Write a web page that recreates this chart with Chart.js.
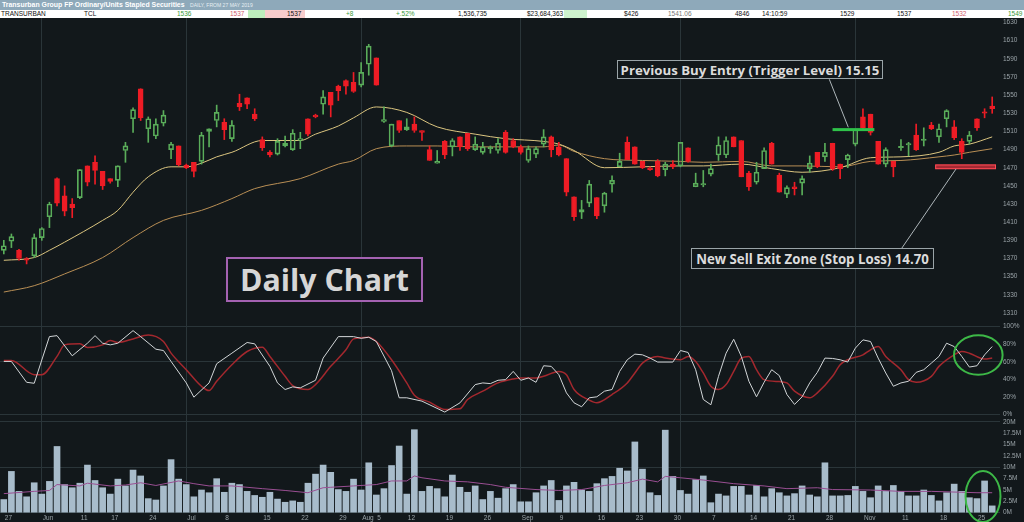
<!DOCTYPE html>
<html><head><meta charset="utf-8">
<script src="https://cdn.jsdelivr.net/npm/chart.js@4.4.1/dist/chart.umd.min.js"></script>
<style>
html,body{margin:0;padding:0;background:#12181b;width:1024px;height:522px;overflow:hidden;font-family:"Liberation Sans",Arial,sans-serif;}
#title{position:absolute;left:0;top:0;width:1024px;height:10px;background:#8ea9ba;}
#title .t{position:absolute;left:2px;top:0;font-weight:bold;font-size:6.5px;line-height:10px;color:#fff;white-space:nowrap;}
#title .s{position:absolute;left:190px;top:0;font-size:4.5px;line-height:10px;color:#e6eef3;white-space:nowrap;}
#row{position:absolute;left:0;top:10px;width:1024px;height:8px;background:#fff;}
#row span{position:absolute;top:0;font-size:6.5px;line-height:8px;color:#111;white-space:nowrap;}
#row .cell{position:absolute;top:0;height:8px;}
.g{color:#3a9a3a !important}.p{color:#d0606e !important}
.cv{position:absolute;left:0;width:1024px;}
.box{position:absolute;box-sizing:border-box;display:flex;align-items:center;justify-content:center;background:#12181b;color:#dcdcdc;font-family:"Open Sans";font-weight:bold;white-space:nowrap;}
#ov{position:absolute;left:0;top:0;pointer-events:none;}
</style></head>
<body>
<div id="title"><span class="t fit" data-w="183">Transurban Group FP Ordinary/Units Stapled Securities</span><span class="s fit" data-w="63">DAILY, FROM 27 MAY 2019</span></div>
<div id="row">
 <div class="cell" style="left:248px;width:17px;background:#bdeebd"></div>
 <div class="cell" style="left:265px;width:40px;background:#f7cccc"></div>
 <div class="cell" style="left:564px;width:23px;background:#cdf2cd"></div>
 <span style="left:1px">TRANSURBAN</span>
 <span style="left:84px">TCL</span>
 <span class="g" style="left:177px">1536</span>
 <span class="p" style="left:230px">1537</span>
 <span style="left:287px">1537</span>
 <span class="g" style="left:346px">+8</span>
 <span class="g" style="left:396px">+.52%</span>
 <span style="left:458px">1,536,735</span>
 <span style="left:527px">$23,684,363</span>
 <span style="left:624px">$426</span>
 <span style="left:668px;color:#777">1541.06</span>
 <span style="left:735px">4846</span>
 <span style="left:762px">14:10:59</span>
 <span style="left:840px">1529</span>
 <span style="left:897px">1537</span>
 <span class="p" style="left:952px">1532</span>
 <span class="g" style="left:1008px">1549</span>
</div>
<div class="cv" style="top:18px;height:304px"><canvas id="price"></canvas></div>
<div class="cv" style="top:322px;height:96px"><canvas id="osc"></canvas></div>
<div class="cv" style="top:418px;height:104px"><canvas id="vol"></canvas></div>
<svg id="ov" width="1024" height="522">
 <line x1="829.3" y1="79.3" x2="848.3" y2="127.3" stroke="#aeb6ba" stroke-width="1"/>
 <line x1="901.7" y1="248.3" x2="956" y2="169" stroke="#aeb6ba" stroke-width="1"/>
 <ellipse cx="978.3" cy="355" rx="24.3" ry="19.7" fill="none" stroke="#3db847" stroke-width="2"/>
 <ellipse cx="983" cy="496.5" rx="17.5" ry="25.5" fill="none" stroke="#3db847" stroke-width="2"/>
</svg>
<div class="box" style="left:617px;top:60px;width:266px;height:19px;border:1px solid #9aa4a8"><span class="fit" data-w="259" style="font-size:13px">Previous Buy Entry (Trigger Level) 15.15</span></div>
<div class="box" style="left:691px;top:248px;width:243px;height:21px;border:1px solid #9aa4a8"><span class="fit" data-w="233" style="font-size:13px">New Sell Exit Zone (Stop Loss) 14.70</span></div>
<div class="box" style="left:226px;top:257px;width:197px;height:45px;border:2px solid #a462b2"><span class="fit" data-w="169" style="font-size:30px;color:#d6d6d6">Daily Chart</span></div>
<script>
// ---------- DATA ----------
const opens = [1379,1389,1379,1370,1373,1393,1416,1458,1439,1430,
1437,1472,1476,1466,1458,1456,1489,1524,1557,1513,
1505,1519,1490,1494,1473,1476,1477,1510,1522,1520,
1502,1541,1547,1529,1501,1487,1485,1494,1490,1500,
1524,1528,1540,1553,1560,1566,1564,1561,1584,1591,
1521,1494,1522,1512,1518,1511,1490,1475,1499,1493,
1504,1508,1490,1487,1491,1489,1509,1500,1493,1478,
1485,1496,1504,1493,1480,1438,1421,1431,1437,1428,
1452,1471,1498,1493,1477,1470,1477,1468,1474,1472,
1492,1449,1451,1463,1484,1484,1504,1500,1464,1454,
1469,1497,1462,1441,1449,1453,1469,1487,1482,1497,
1474,1479,1496,1526,1529,1499,1474,1477,1492,1495,
1506,1500,1517,1504,1524,1515,1499,1499,1524,1531,1538];
const highs = [1390,1397,1380,1371,1397,1404,1432,1459,1450,1436,
1468,1472,1483,1466,1458,1472,1498,1536,1557,1526,
1524,1533,1498,1494,1474,1476,1509,1513,1539,1524,
1522,1551,1547,1535,1504,1489,1502,1505,1512,1509,
1524,1529,1555,1553,1561,1567,1575,1586,1606,1591,
1537,1518,1522,1524,1526,1511,1494,1489,1500,1502,
1504,1508,1504,1498,1494,1502,1511,1502,1495,1494,
1493,1512,1505,1498,1480,1438,1434,1456,1437,1443,
1461,1486,1504,1493,1477,1471,1479,1476,1478,1498,
1492,1464,1467,1474,1504,1504,1504,1500,1466,1476,
1492,1498,1464,1450,1454,1461,1483,1487,1497,1497,
1474,1485,1512,1535,1529,1499,1492,1477,1501,1498,
1518,1514,1520,1518,1534,1522,1502,1510,1524,1535,1548];
const lows = [1375,1382,1368,1364,1371,1390,1404,1428,1417,1415,
1436,1450,1452,1446,1453,1449,1476,1509,1522,1498,
1502,1516,1480,1472,1469,1460,1474,1493,1515,1501,
1499,1533,1535,1522,1489,1482,1484,1493,1489,1491,
1505,1525,1529,1526,1544,1551,1553,1559,1572,1561,
1520,1493,1509,1511,1509,1500,1478,1475,1480,1483,
1489,1489,1489,1485,1486,1486,1486,1492,1485,1476,
1481,1493,1482,1483,1439,1412,1414,1427,1414,1421,
1443,1471,1479,1474,1469,1467,1460,1461,1469,1471,
1476,1449,1449,1461,1478,1481,1493,1460,1445,1452,
1469,1474,1443,1437,1440,1440,1465,1470,1477,1467,
1458,1470,1494,1513,1506,1474,1471,1460,1489,1483,
1489,1494,1512,1498,1515,1501,1480,1496,1511,1525,1530];
const closes = [1384,1394,1370,1368,1393,1403,1430,1431,1422,1426,
1468,1454,1467,1450,1455,1472,1494,1534,1525,1524,
1518,1528,1496,1473,1470,1466,1506,1513,1531,1512,
1517,1537,1540,1524,1492,1484,1499,1497,1508,1502,
1507,1526,1548,1539,1555,1560,1554,1575,1604,1561,
1523,1518,1511,1515,1511,1509,1478,1477,1484,1500,
1493,1491,1496,1493,1492,1497,1487,1493,1487,1491,
1491,1504,1490,1484,1443,1416,1424,1452,1417,1442,
1456,1477,1479,1474,1470,1468,1461,1474,1471,1498,
1477,1453,1452,1469,1495,1500,1493,1460,1449,1465,
1489,1474,1443,1448,1447,1458,1475,1471,1487,1469,
1469,1484,1512,1514,1509,1474,1490,1471,1493,1496,
1490,1501,1513,1513,1533,1503,1487,1506,1514,1530,1535];
// volume in millions
const volumes = [2.9,9.1,4.7,3.5,6.6,4.1,6.9,14.6,6.2,5.5,
6.5,10.5,7.1,5.5,4.1,7.4,5.9,9.4,8.1,3.1,
2.8,5.9,11.7,7.4,6.2,3.5,5.0,4.4,7.5,4.5,
6.5,6.2,4.7,3.8,3.4,4.5,3.0,2.3,2.6,2.3,
6.5,8.5,10.5,8.9,5.1,4.7,7.4,5.0,11.0,3.9,
5.3,10.4,14.7,4.1,18.3,4.7,5.8,5.3,3.5,8.3,
5.6,4.5,5.9,2.9,4.7,3.2,5.3,6.2,2.4,2.4,
4.4,5.9,7.1,2.7,5.9,6.7,5.0,4.7,6.4,7.5,
8.0,9.8,9.2,15.6,9.6,4.4,3.8,18.2,8.0,4.9,
4.1,7.3,8.1,2.2,4.1,3.7,5.8,5.8,3.9,6.0,
3.5,5.3,4.4,3.7,4.2,5.9,3.9,3.5,11.0,3.7,
3.7,3.8,5.8,4.7,3.3,5.9,4.7,6.0,4.7,3.7,
3.7,5.0,3.8,2.6,4.4,6.3,4.7,3.3,3.1,7.0,1.5];
// moving averages: [bar index, value]
const maShort = [[0,1368],[4,1371],[6,1379],[8,1388],[13,1412],[15,1423],[17,1443],[19,1460],[22,1471],[24,1471],[26,1475],[28,1482],[30,1487],[34,1500],[39,1500],[41,1507],[44,1516],[46,1525],[49,1537],[53,1531],[57,1515],[62,1507],[66,1502],[71,1499],[73,1496],[75,1489],[79,1470],[84,1471],[89,1472],[92,1472],[97,1474],[101,1469],[105,1465],[110,1470],[114,1481],[118,1482],[123,1487],[125,1494],[127,1496],[130,1504]];
const maLong = [[0,1333],[4,1340],[8,1353],[13,1371],[17,1393],[21,1412],[26,1423],[30,1436],[33,1447],[39,1458],[44,1474],[46,1478],[49,1491],[53,1494],[57,1494],[62,1493],[66,1493],[71,1493],[73,1495],[75,1488],[79,1480],[84,1478],[89,1477],[92,1476],[97,1477],[101,1472],[105,1472],[110,1471],[114,1477],[118,1478],[123,1482],[125,1484],[127,1487],[130,1491]];
const stochK = [[0,60.5],[1,60.5],[3,36.8],[4,35.7],[6,88.7],[7,89.8],[9,66.9],[11,81.2],[12,89.8],[13,81.2],[14,79.3],[15,81.2],[17,95.5],[18,88.7],[20,74.4],[21,72.9],[22,60.5],[24,36.1],[25,19.9],[27,36.1],[28,57.9],[30,69.9],[32,82],[33,80.5],[35,54.9],[36,36.1],[37,28.6],[38,31.6],[39,30.5],[41,39.1],[42,64.3],[44,88.7],[46,88.7],[47,86.8],[48,88],[49,83.1],[51,50],[52,19.2],[53,19.2],[55,15.4],[58,3],[60,13.5],[62,34.2],[63,36.1],[64,35.3],[65,39.1],[66,39.8],[67,49.2],[68,39.1],[69,41.7],[70,36.8],[71,55.6],[72,54.9],[73,45.5],[74,24.8],[75,13.5],[76,9],[77,19.2],[78,20.3],[79,26.7],[80,28.6],[81,49.2],[82,62.4],[83,68.8],[84,68],[85,64.3],[86,59.8],[88,59.8],[89,72.9],[90,70.7],[91,51.1],[92,17.3],[93,11.3],[94,43.6],[95,69.9],[96,85.7],[97,66.2],[98,38],[99,20.3],[100,36.8],[101,51.1],[102,44.4],[103,22.9],[104,11.7],[105,20.3],[106,36.1],[107,48.1],[108,64.3],[109,63.9],[110,62.4],[111,59.8],[112,75.6],[113,85],[114,83.1],[115,64.3],[116,47.4],[117,32.3],[118,36.1],[119,38],[120,48.1],[121,51.1],[122,58.6],[123,66.2],[124,81.2],[125,77.4],[126,66.2],[127,54.1],[128,55.6],[129,68],[130,77.4]];
const stochD = [[0,61.7],[1,61.7],[4,45.5],[5,45.5],[7,66.2],[8,79.3],[10,80.5],[11,76.3],[13,79.3],[14,84.2],[15,82],[17,86.1],[19,90.6],[21,83.1],[22,69.9],[24,51.1],[26,32.3],[27,27.4],[28,38],[30,56.8],[32,71.8],[34,76.7],[35,66.2],[37,43.6],[38,33.1],[40,28.6],[41,34.2],[43,54.9],[45,73.7],[46,86.1],[48,88],[49,83.1],[51,62.4],[53,36.1],[54,22.2],[56,14.3],[58,6],[60,6.8],[61,17.3],[63,26.7],[65,36.1],[67,40.6],[68,41.7],[70,41.7],[71,43.6],[73,49.2],[74,45.5],[75,28.6],[77,16.5],[78,13.5],[80,22.9],[82,36.1],[83,47.4],[84,58.6],[86,66.2],[87,64.3],[89,62.4],[90,66.2],[91,60.5],[92,47.4],[93,32.3],[94,28.6],[95,34.2],[96,49.2],[97,64.3],[98,66.2],[99,51.1],[100,39.8],[102,37.6],[103,36.1],[104,26.7],[106,19.2],[107,24.8],[109,43.6],[110,56.8],[111,62.4],[113,68],[114,73.7],[115,77.4],[116,66.2],[118,51.1],[119,39.8],[120,36.8],[122,43.6],[123,54.9],[125,68],[126,71.8],[127,69.9],[129,63.2],[130,64.3]];
const volMA = [[0,4.2],[4,4.7],[6,4.9],[7,6.2],[10,5.9],[11,6.5],[14,5.9],[16,6.1],[18,6.6],[20,6.0],[23,7.0],[25,6.4],[27,5.9],[30,5.9],[34,5.3],[37,4.9],[40,4.4],[42,5.5],[43,5.6],[46,5.9],[49,6.2],[51,7.0],[53,7.0],[54,8.1],[55,7.7],[58,7.0],[61,6.8],[64,6.2],[66,5.6],[70,5.1],[73,4.9],[76,5.1],[79,6.0],[82,6.6],[84,7.4],[86,6.8],[87,8.0],[89,7.7],[92,7.2],[96,6.4],[100,5.9],[103,5.3],[107,5.5],[109,5.1],[114,5.0],[118,4.7],[122,4.7],[126,4.5],[128,4.4],[130,4.4]];
// x-axis tick labels (bar index -> text)
const tickIdx  = [0,5,10,14,19,24,29,34,39,44,47,49,53,58,63,68,73,78,83,88,93,98,103,108,113,118,123,128];
const tickText = ['27','Jun','11','17','24','Jul','8','15','22','29','Aug','5','12','19','26','Sep','9','16','23','30','7','14','21','28','Nov','11','18','25'];
const monthLines = [5,24,47,68,89,112];
const priceTicks = [1310,1320,1330,1340,1350,1360,1370,1380,1390,1400,1410,1420,1430,1440,1450,1460,1470,1480,1490,1500,1510,1520,1530,1540,1550,1560,1570,1580,1590,1600,1610,1620,1630];
const priceGrid = [1400,1500,1600];
const oscTicks = [0,20,40,60,80,100];
const oscGrid = [0,60,100];
const volTicks = [0,2.5,5,7.5,10,12.5,15,17.5,20];
const volGrid = [0,10,20];
const buyLevel = 1512, buyFrom = 109, buyTo = 114;
const stopLevel = 1471, stopFrom = 123, stopTo = 130;

// ---------- STYLE ----------
const BG='#12181b', GRID='#2a3539', GREEN='#5aad5a', RED='#ee1c25', TXT='#9aa3a8';
const NONE='rgba(0,0,0,0)';
const labels = opens.map((_, i) => i);
const up = closes.map((c, i) => c >= opens[i]);
const pts = arr => arr.map(p => ({x: p[0], y: p[1]}));
const tickMap = {}; tickIdx.forEach((k, j) => tickMap[k] = tickText[j]);
Chart.defaults.font.family = 'Liberation Sans';

function xAxis(show) {
  return {
    type: 'category', offset: true,
    grid: {offset: false, drawTicks: false, color: c => monthLines.includes(c.index) ? GRID : NONE},
    border: {display: false},
    ticks: {display: show, autoSkip: false, maxRotation: 0, minRotation: 0, align: 'start', padding: 1, labelOffset: 1,
      color: TXT, font: {size: 6.5}, callback: (v, i) => tickMap[i] !== undefined ? tickMap[i] : ''},
    afterFit: s => { s.height = show ? 9 : 0; s.paddingLeft = 0; s.paddingRight = 0; }
  };
}
function yAxis(min, max, vals, gridVals, fmt) {
  return {
    position: 'right', min, max,
    afterBuildTicks: s => { s.ticks = vals.map(v => ({value: v})); },
    grid: {drawTicks: true, tickLength: 4, color: c => (c.tick && gridVals.includes(c.tick.value)) ? GRID : NONE},
    border: {display: false},
    ticks: {padding: 3, color: TXT, font: {size: 6.5}, callback: v => fmt(v)},
    afterFit: s => { s.width = 28; s.paddingTop = 0; s.paddingBottom = 0; }
  };
}
const common = {responsive: true, maintainAspectRatio: false, animation: false, events: [],
  layout: {padding: 0}, plugins: {legend: {display: false}, tooltip: {enabled: false}}};

const levelPlugin = {
  id: 'levels',
  afterDatasetsDraw(chart) {
    const {ctx, scales: {x, y}} = chart;
    const half = (x.getPixelForValue(1) - x.getPixelForValue(0)) / 2;
    ctx.save();
    const yb = y.getPixelForValue(buyLevel);
    ctx.fillStyle = '#2fc24a';
    ctx.fillRect(x.getPixelForValue(buyFrom), yb - 1.5, x.getPixelForValue(buyTo) - x.getPixelForValue(buyFrom) + half, 3);
    const y1 = y.getPixelForValue(stopLevel + 2.6), y2 = y.getPixelForValue(stopLevel - 2.6);
    const xl = x.getPixelForValue(stopFrom) - half, xr = x.getPixelForValue(stopTo) + half;
    ctx.fillStyle = 'rgba(190,45,55,0.85)';
    ctx.fillRect(xl, y1, xr - xl, y2 - y1);
    ctx.strokeStyle = '#ff4a55'; ctx.lineWidth = 1;
    ctx.strokeRect(xl + 0.5, y1 + 0.5, xr - xl - 1, y2 - y1 - 1);
    ctx.restore();
  }
};

new Chart(document.getElementById('price'), {
  type: 'bar',
  data: {labels, datasets: [
    {type: 'bar', order: 0, grouped: false, data: opens.map((o, i) => [o, closes[i]]),
      backgroundColor: up.map(u => u ? NONE : RED), borderColor: up.map(u => u ? GREEN : RED),
      borderWidth: 1, borderSkipped: false, barThickness: 5, minBarLength: 1.5},
    {type: 'bar', order: 1, grouped: false, data: highs.map((h, i) => [Math.max(opens[i], closes[i]), h]),
      backgroundColor: up.map(u => u ? GREEN : RED), barThickness: 1},
    {type: 'bar', order: 1, grouped: false, data: lows.map((l, i) => [l, Math.min(opens[i], closes[i])]),
      backgroundColor: up.map(u => u ? GREEN : RED), barThickness: 1},
    {type: 'line', order: 3, data: pts(maShort), borderColor: '#dcc680', borderWidth: 1, pointRadius: 0, cubicInterpolationMode: 'monotone'},
    {type: 'line', order: 4, data: pts(maLong), borderColor: '#b98f55', borderWidth: 1, pointRadius: 0, cubicInterpolationMode: 'monotone'}
  ]},
  options: Object.assign({}, common, {scales: {x: xAxis(false), y: yAxis(1300, 1635, priceTicks, priceGrid, v => String(v))}}),
  plugins: [levelPlugin]
});

new Chart(document.getElementById('osc'), {
  type: 'line',
  data: {labels, datasets: [
    {data: pts(stochK), borderColor: '#d2d6d8', borderWidth: 1, pointRadius: 0, tension: 0},
    {data: pts(stochD), borderColor: '#a3282e', borderWidth: 1.5, pointRadius: 0, cubicInterpolationMode: 'monotone'}
  ]},
  options: Object.assign({}, common, {scales: {x: xAxis(false), y: yAxis(-3.75, 105.3, oscTicks, oscGrid, v => v + '%')}})
});

new Chart(document.getElementById('vol'), {
  type: 'bar',
  data: {labels, datasets: [
    {type: 'line', order: 0, data: pts(volMA), borderColor: '#9a4f93', borderWidth: 1, pointRadius: 0, tension: 0},
    {type: 'bar', order: 1, data: volumes, backgroundColor: '#a8bccb', barThickness: 6}
  ]},
  options: Object.assign({}, common, {scales: {x: xAxis(true), y: yAxis(-0.07, 20.88, volTicks, volGrid, v => v + 'M')}})
});

// fit annotation / header text to measured widths
const mc = document.createElement('canvas').getContext('2d');
document.querySelectorAll('.fit').forEach(el => {
  const cs = getComputedStyle(el);
  const fs = parseFloat(cs.fontSize);
  mc.font = cs.fontWeight + ' ' + fs + 'px ' + cs.fontFamily;
  const w = mc.measureText(el.textContent).width;
  el.style.fontSize = (fs * (+el.dataset.w) / w) + 'px';
});
</script>
</body></html>
